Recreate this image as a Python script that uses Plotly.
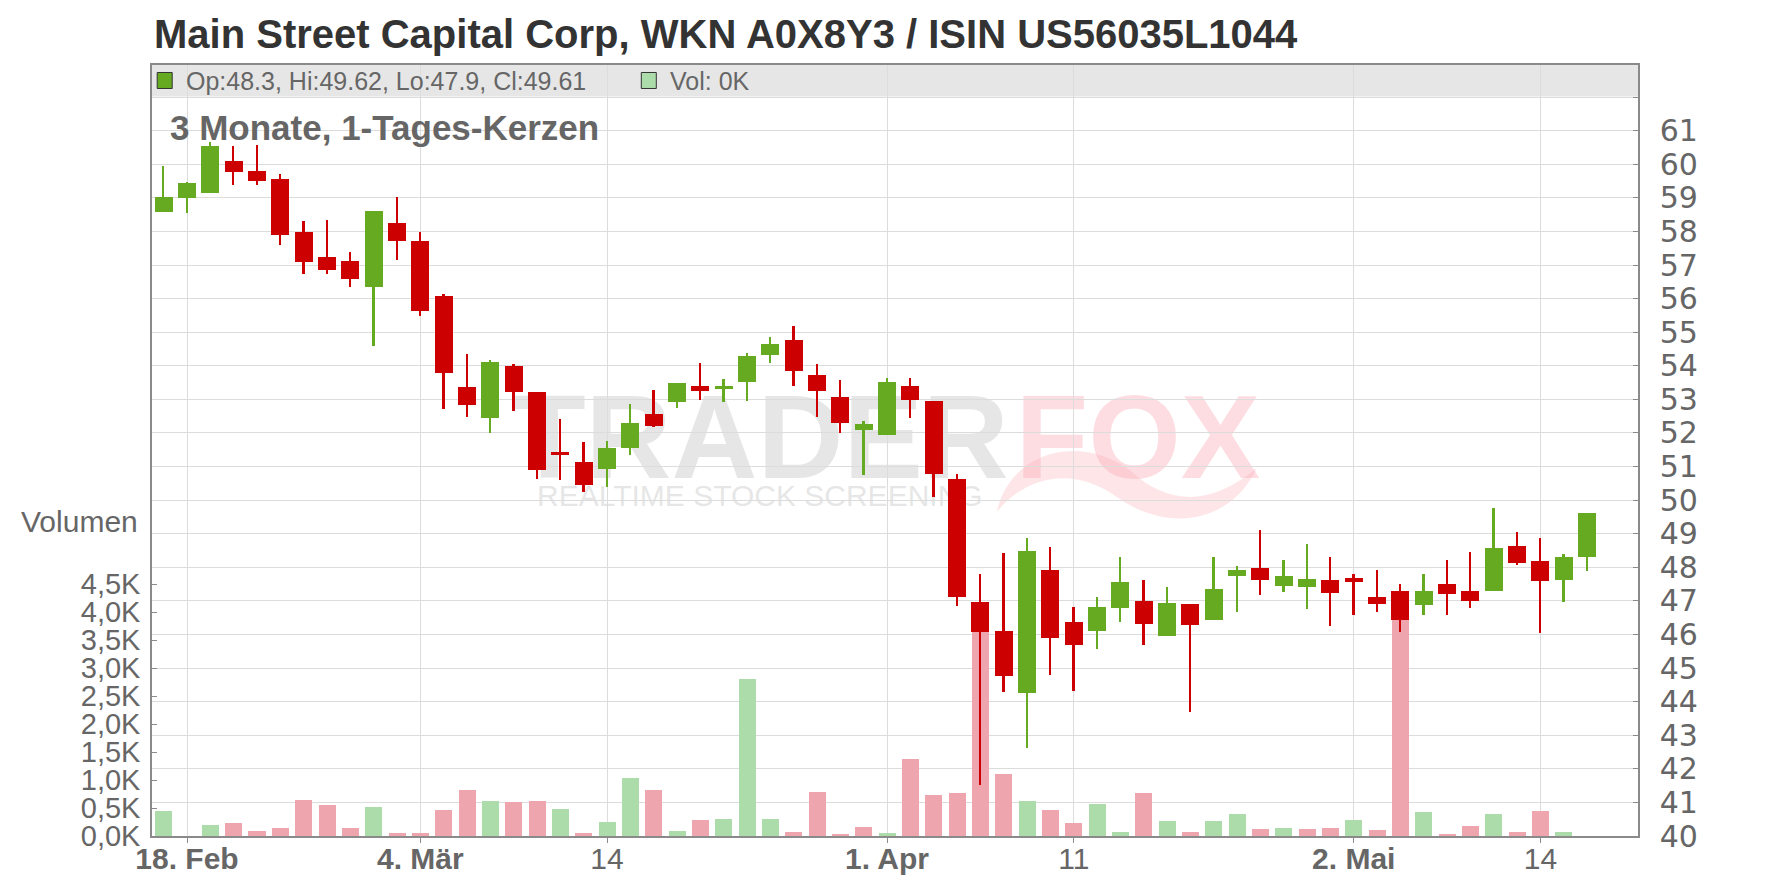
import pandas as pd
import plotly.graph_objects as go

# ---------------- data ----------------
holidays = ["2025-04-18", "2025-04-21", "2025-05-01"]
dates = [d.strftime("%Y-%m-%d") for d in pd.bdate_range("2025-02-17", "2025-05-16") if d.strftime("%Y-%m-%d") not in holidays]

opens = [58.59, 59.01, 59.13, 60.10, 59.80, 59.56, 57.99, 57.24, 57.12, 56.36,
         58.25, 57.72, 56.08, 53.37, 52.46, 54.00, 53.22, 51.42, 51.14, 50.92,
         51.54, 52.57, 52.91, 53.40, 53.30, 53.53, 54.31, 54.77, 53.73, 53.08,
         52.08, 51.93, 53.40, 52.96, 50.64, 46.98, 46.11, 44.25, 47.92, 46.38,
         46.09, 46.80, 46.99, 45.94, 46.90, 46.44, 47.75, 47.97, 47.45, 47.42,
         47.62, 47.68, 47.11, 47.29, 46.89, 47.50, 47.29, 47.30, 48.63, 48.18,
         47.63, 48.30]
highs = [59.95, 59.47, 60.65, 60.55, 60.58, 59.71, 58.31, 58.34, 57.39, 58.61,
         59.03, 57.99, 56.14, 54.36, 54.16, 54.06, 53.22, 52.42, 51.74, 51.77,
         52.87, 53.29, 53.49, 54.09, 53.61, 54.39, 54.86, 55.19, 54.06, 53.58,
         52.36, 53.63, 53.64, 52.96, 50.79, 47.81, 48.43, 48.88, 48.61, 46.83,
         47.12, 48.30, 47.62, 47.41, 46.90, 48.30, 48.03, 49.10, 48.21, 48.69,
         48.30, 47.80, 47.91, 47.50, 47.80, 48.21, 48.45, 49.78, 49.04, 48.86,
         48.39, 49.62]
lows = [58.59, 58.55, 59.13, 59.39, 59.39, 57.60, 56.74, 56.74, 56.36, 54.60,
        57.16, 55.47, 52.70, 52.49, 52.01, 52.64, 50.64, 50.59, 50.23, 50.38,
        51.33, 52.17, 52.73, 52.99, 52.91, 52.94, 54.07, 53.41, 52.49, 51.99,
        50.74, 51.93, 52.46, 50.08, 46.84, 41.52, 44.28, 42.62, 44.79, 44.31,
        45.56, 46.38, 45.70, 45.94, 43.68, 46.44, 46.68, 47.18, 47.27, 46.77,
        46.26, 46.59, 46.68, 46.08, 46.59, 46.59, 46.80, 47.30, 48.07, 46.05,
        46.97, 47.90]
closes = [59.03, 59.44, 60.55, 59.78, 59.51, 57.88, 57.10, 56.84, 56.57, 58.61,
          57.73, 55.62, 53.80, 52.82, 54.12, 53.23, 50.91, 51.33, 50.44, 51.56,
          52.30, 52.20, 53.49, 53.24, 53.40, 54.30, 54.65, 53.83, 53.24, 52.31,
          52.27, 53.52, 52.97, 50.77, 47.11, 46.07, 44.76, 48.49, 45.89, 45.68,
          46.83, 47.56, 46.32, 46.93, 46.29, 47.35, 47.91, 47.63, 47.74, 47.65,
          47.24, 47.57, 46.91, 46.44, 47.29, 47.21, 47.00, 48.57, 48.13, 47.60,
          48.30, 49.61]
volumes = [450, 0, 200, 240, 95, 150, 650, 560, 150, 520,
           60, 60, 470, 830, 630, 600, 630, 490, 60, 250,
           1040, 820, 90, 290, 300, 2800, 300, 70, 790, 20,
           160, 50, 1370, 740, 760, 3900, 1100, 620, 470, 230,
           580, 80, 760, 260, 80, 260, 400, 120, 140, 120,
           140, 280, 100, 4100, 420, 30, 170, 390, 80, 440,
           65, 0]

tick_dates = ["2025-02-18", "2025-03-04", "2025-03-14", "2025-04-01", "2025-04-11", "2025-05-02", "2025-05-14"]
tick_labels = ["<b>18. Feb</b>", "<b>4. Mär</b>", "14", "<b>1. Apr</b>", "11", "<b>2. Mai</b>", "14"]
price_ticks = list(range(40, 63))
vol_ticks = [0, 500, 1000, 1500, 2000, 2500, 3000, 3500, 4000, 4500]
vol_tick_labels = ["0,0K", "0,5K", "1,0K", "1,5K", "2,0K", "2,5K", "3,0K", "3,5K", "4,0K", "4,5K"]

title_text = "Main Street Capital Corp, WKN A0X8Y3 / ISIN US56035L1044"
subtitle_text = "3 Monate, 1-Tages-Kerzen"

# ---------------- styling ----------------
GREEN = "#66aa22"
RED = "#cc0000"
VGREEN = "#abdca9"
VRED = "#eea5ae"
GRID = "#dcdcdc"
AXIS = "#8a8a8a"
TXT = "#666666"
FONT = "Liberation Sans, Arial, sans-serif"

W, H = 1776, 888
L, R, T, B = 152.3, 1638.0, 65.0, 836.3
PX_PER_PRICE = 33.6
PX_PER_VOL = 0.056

def xp(px):
    return (px - L) / (R - L)

def yp(py):
    return (B - py) / (B - T)

n = len(dates)
up = [c >= o for o, c in zip(opens, closes)]
cand_col = [GREEN if u else RED for u in up]
vol_col = []
for i in range(n):
    if i == 0:
        vol_col.append(VGREEN if up[0] else VRED)
    else:
        vol_col.append(VGREEN if closes[i] >= closes[i - 1] else VRED)

body_base = [min(o, c) for o, c in zip(opens, closes)]
body_h = [max(abs(c - o), 0.04) for o, c in zip(opens, closes)]
wick_h = [h - l for h, l in zip(highs, lows)]

fig = go.Figure()
fig.add_trace(go.Bar(x=dates, y=volumes, width=0.73, marker=dict(color=vol_col, line=dict(width=0)),
                     yaxis="y", name="Vol", showlegend=False, hoverinfo="skip"))
fig.add_trace(go.Bar(x=dates, y=wick_h, base=lows, width=0.07, marker=dict(color=cand_col, line=dict(width=0)),
                     yaxis="y2", showlegend=False, hoverinfo="skip"))
fig.add_trace(go.Bar(x=dates, y=body_h, base=body_base, width=0.77, marker=dict(color=cand_col, line=dict(width=0)),
                     yaxis="y2", showlegend=False,
                     customdata=list(zip(opens, highs, lows, closes)),
                     hovertemplate="Op:%{customdata[0]}<br>Hi:%{customdata[1]}<br>Lo:%{customdata[2]}<br>Cl:%{customdata[3]}<extra></extra>"))

vol_top = (B - T) / PX_PER_VOL
price_top = 40 + (B - T) / PX_PER_PRICE

fig.update_layout(
    width=W, height=H,
    margin=dict(l=L, r=W - R, t=T, b=H - B, pad=0, autoexpand=False),
    paper_bgcolor="white", plot_bgcolor="white",
    barmode="overlay", bargap=0,
    font=dict(family=FONT, color=TXT, size=30),
    showlegend=False,
    xaxis=dict(type="category", range=[-0.5, 63.18], tickmode="array", tickvals=tick_dates, ticktext=tick_labels,
               showgrid=True, gridcolor=GRID, gridwidth=1, ticks="outside", ticklen=5, tickcolor=AXIS,
               showline=True, linecolor=AXIS, linewidth=1.5, mirror=True, zeroline=False, automargin=False,
               tickfont=dict(size=30, color=TXT, family=FONT), ticklabelstandoff=-10),
    yaxis=dict(range=[0, vol_top], side="left", tickmode="array", tickvals=vol_ticks, ticktext=vol_tick_labels,
               showgrid=False, zeroline=False, ticks="inside", ticklen=5, tickcolor=AXIS, automargin=False,
               showline=True, linecolor=AXIS, linewidth=1.5,
               tickfont=dict(size=29, color=TXT, family=FONT), ticklabelstandoff=4),
    yaxis2=dict(range=[40, price_top], overlaying="y", side="right", tickmode="array", tickvals=price_ticks,
                ticktext=[str(v) if v <= 61 else "" for v in price_ticks], automargin=False,
                showgrid=True, gridcolor=GRID, gridwidth=1, zeroline=False, ticks="inside", ticklen=5,
                tickcolor=AXIS, showline=True, linecolor=AXIS, linewidth=1.5,
                tickfont=dict(size=30, color=TXT, family="DejaVu Sans, sans-serif"), ticklabelstandoff=14),
)

last = n - 1
legend_text = f"Op:{opens[last]:g}, Hi:{highs[last]:g}, Lo:{lows[last]:g}, Cl:{closes[last]:g}"
vol_text = f"Vol: {volumes[last] / 1000:.0f}K"

tail_path = ("M 997,512 C 1010,452 1080,432 1132,472 C 1162,500 1205,512 1257,468 "
             "C 1232,522 1170,534 1118,498 C 1078,468 1030,472 997,512 Z")
tail_pts = tail_path.split()
conv = []
for tok in tail_pts:
    if "," in tok:
        a, b = tok.split(",")
        conv.append(f"{xp(float(a)):.5f},{yp(float(b)):.5f}")
    else:
        conv.append(tok)
tail_path_paper = " ".join(conv)

shapes = [
    dict(type="rect", xref="paper", yref="paper", x0=0, x1=1, y0=yp(96.5), y1=1,
         fillcolor="#e6e6e6", line=dict(width=0), layer="below"),
    dict(type="rect", xref="paper", yref="paper", x0=xp(157.5), x1=xp(172.5), y0=yp(88.5), y1=yp(72.5),
         fillcolor=GREEN, line=dict(color="#333333", width=1), layer="above"),
    dict(type="rect", xref="paper", yref="paper", x0=xp(641.5), x1=xp(656.5), y0=yp(88.5), y1=yp(72.5),
         fillcolor=VGREEN, line=dict(color="#333333", width=1), layer="above"),
    # watermark
    dict(type="path", xref="paper", yref="paper", path=tail_path_paper,
         fillcolor="rgba(250,170,180,0.30)", line=dict(width=0), layer="below"),
    dict(type="rect", xref="paper", yref="paper", x0=xp(500), x1=xp(1022), y0=yp(472), y1=yp(380),
         fillcolor="rgba(0,0,0,0)", line=dict(width=0), layer="below",
         label=dict(text="<b>TRADER</b>", font=dict(size=119, color="rgba(200,200,200,0.45)", family=FONT),
                    textposition="middle center", padding=0)),
    dict(type="rect", xref="paper", yref="paper", x0=xp(1012), x1=xp(1264), y0=yp(472), y1=yp(380),
         fillcolor="rgba(0,0,0,0)", line=dict(width=0), layer="below",
         label=dict(text="<b>FOX</b>", font=dict(size=119, color="rgba(250,170,180,0.40)", family=FONT),
                    textposition="middle center", padding=0)),
    dict(type="rect", xref="paper", yref="paper", x0=xp(530), x1=xp(990), y0=yp(506), y1=yp(480),
         fillcolor="rgba(0,0,0,0)", line=dict(width=0), layer="below",
         label=dict(text="REALTIME STOCK SCREENING", font=dict(size=30, color="rgba(200,200,200,0.45)", family=FONT),
                    textposition="middle center", padding=0)),
]
fig.update_layout(shapes=shapes)

annotations = [
    dict(text=f"<b>{title_text}</b>", x=xp(152), y=yp(34), xref="paper", yref="paper", xanchor="left",
         yanchor="middle", showarrow=False, font=dict(size=40, color="#333333", family=FONT)),
    dict(text=legend_text, x=xp(184), y=yp(81), xref="paper", yref="paper", xanchor="left", yanchor="middle",
         showarrow=False, font=dict(size=25, color=TXT, family=FONT)),
    dict(text=vol_text, x=xp(668), y=yp(81), xref="paper", yref="paper", xanchor="left", yanchor="middle",
         showarrow=False, font=dict(size=25, color=TXT, family=FONT)),
    dict(text=f"<b>{subtitle_text}</b>", x=xp(168), y=yp(128), xref="paper", yref="paper", xanchor="left",
         yanchor="middle", showarrow=False, font=dict(size=35, color=TXT, family=FONT)),
    dict(text="Volumen", x=xp(140), y=yp(522), xref="paper", yref="paper", xanchor="right", yanchor="middle",
         showarrow=False, font=dict(size=30, color=TXT, family=FONT)),
]
fig.update_layout(annotations=annotations)

fig.write_html("out.html", config={"displayModeBar": False},
               post_script="document.body.style.margin='0';document.body.style.overflow='hidden';")
